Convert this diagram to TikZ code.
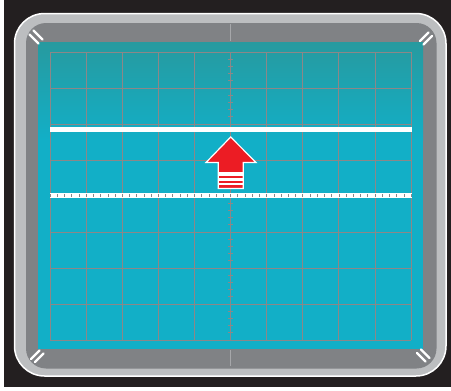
\documentclass[tikz,border=0pt]{standalone}
\begin{document}
\begin{tikzpicture}[x=1pt,y=-1pt]
\definecolor{bgblack}{HTML}{231F20}
\definecolor{bezel}{HTML}{BCBEC0}
\definecolor{bezeldark}{HTML}{808285}
\definecolor{scrtop}{HTML}{279A9F}
\definecolor{scrbot}{HTML}{12AFC7}
\definecolor{gridc}{HTML}{8C8788}
\definecolor{arrowred}{HTML}{EC1C24}
\tikzset{
  gridline/.style={draw=gridc, line width=0.65pt},
  framecentre/.style={draw=bezeldark!70!white, line width=0.8pt},
  cornermark/.style={draw=white, line width=2.4pt, line cap=round},
}
\path[use as bounding box] (0,0) rectangle (451,391);
\fill[white] (0,0) rectangle (451,391);
\fill[bgblack] (4,0) rectangle (451,387);
% bezel
\filldraw[fill=bezel, draw=white, line width=1.5pt, rounded corners=30pt] (14.5,13.5) rectangle (446,376);
\fill[bezeldark, rounded corners=20pt] (26,23) rectangle (436.5,368.5);
% screen
\fill[scrbot] (38,42) rectangle (423,349);
\shade[top color=scrtop, bottom color=scrbot] (38,42) rectangle (423,140);
% frame centre lines
\draw[framecentre] (230.7,24) -- (230.7,41);
\draw[framecentre] (230.7,350) -- (230.7,366);
% grid
\foreach \i in {0,...,10} \draw[gridline] ({50+36.1*\i},52) -- ({50+36.1*\i},340);
\foreach \j in {0,...,8} \draw[gridline] (50,{52+36*\j}) -- (411,{52+36*\j});
% vertical axis minor ticks
\foreach \k in {-20,...,20} \draw[gridline] (228.2,{196+7.2*\k}) -- (233.2,{196+7.2*\k});
% trace (upper white line)
\fill[white] (50,127) rectangle (411.5,132.3);
% horizontal centre axis with ticks
\fill[white] (50,192.8) rectangle (411.5,198);
\foreach \k in {-25,...,25} \draw[draw=gridc, line width=0.9pt] ({230.7+7.22*\k},194.3) -- ({230.7+7.22*\k},196.6);
% arrow
\filldraw[fill=arrowred, draw=white, line width=1.2pt, line join=miter]
  (230.7,137) -- (256,162.5) -- (243.3,162.5) -- (243.3,188.5) -- (218.3,188.5) -- (218.3,162.5) -- (206,162.5) -- cycle;
\fill[white] (218.3,172) rectangle (243.3,175.6);
\fill[white] (218.3,178.3) rectangle (243.3,180.7);
\fill[white] (218.3,183.3) rectangle (243.3,185.3);
% corner marks
\draw[cornermark] (29.5,34.5) -- (38.5,43.5);
\draw[cornermark] (33.5,30.5) -- (42.5,39.5);
\draw[cornermark] (420,41) -- (428.5,32.5);
\draw[cornermark] (423.5,44.5) -- (432,36);
\draw[cornermark] (31,359) -- (39.5,350.5);
\draw[cornermark] (35,362) -- (43.5,353.5);
\draw[cornermark] (417,353) -- (425.5,361.5);
\draw[cornermark] (421,349.5) -- (429.5,358);
\end{tikzpicture}
\end{document}
